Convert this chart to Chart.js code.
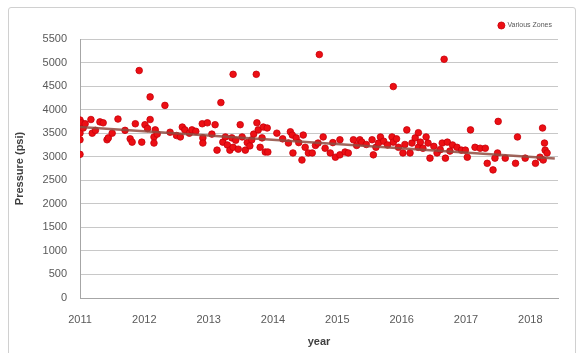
<!DOCTYPE html>
<html>
<head>
<meta charset="utf-8">
<script src="https://cdn.jsdelivr.net/npm/chart.js@4/dist/chart.umd.min.js"></script>
<style>
  html, body { margin: 0; padding: 0; background: #ffffff; }
  #wrap { position: relative; width: 579px; height: 353px; overflow: hidden; background: #ffffff; }
  #frame { position: absolute; left: 8px; top: 7px; width: 568px; height: 360px;
           border: 1px solid #d0d0d0; border-radius: 3px; box-sizing: border-box; }
  canvas { position: absolute; left: 0; top: 0; }
</style>
</head>
<body>
<div id="wrap">
  <div id="frame"></div>
  <canvas id="chart" width="579" height="353"></canvas>
</div>
<script>
// Sampling dates (decimal years) and measured pressures (psi)
const sampleDates = [
  2011.00, 2011.00, 2011.00, 2011.00, 2011.00, 2011.02, 2011.05, 2011.08, 2011.17, 2011.19,
  2011.24, 2011.31, 2011.36, 2011.42, 2011.44, 2011.50, 2011.59, 2011.70, 2011.78, 2011.81,
  2011.86, 2011.92, 2011.96, 2012.01, 2012.05, 2012.09, 2012.09, 2012.15, 2012.15, 2012.17,
  2012.20, 2012.32, 2012.40, 2012.50, 2012.56, 2012.59, 2012.63, 2012.70, 2012.74, 2012.80,
  2012.90, 2012.91, 2012.91, 2012.98, 2013.05, 2013.10, 2013.13, 2013.19, 2013.22, 2013.26,
  2013.29, 2013.33, 2013.36, 2013.38, 2013.38, 2013.42, 2013.46, 2013.49, 2013.52, 2013.57,
  2013.60, 2013.64, 2013.67, 2013.70, 2013.74, 2013.75, 2013.77, 2013.80, 2013.83, 2013.85,
  2013.88, 2013.91, 2013.92, 2014.06, 2014.15, 2014.24, 2014.27, 2014.30, 2014.31, 2014.36,
  2014.40, 2014.45, 2014.47, 2014.50, 2014.55, 2014.61, 2014.66, 2014.70, 2014.72, 2014.78,
  2014.81, 2014.89, 2014.93, 2014.97, 2015.04, 2015.04, 2015.12, 2015.17, 2015.25, 2015.30,
  2015.35, 2015.38, 2015.45, 2015.54, 2015.56, 2015.60, 2015.64, 2015.67, 2015.72, 2015.78,
  2015.85, 2015.87, 2015.87, 2015.92, 2015.95, 2016.02, 2016.05, 2016.08, 2016.13, 2016.16,
  2016.21, 2016.26, 2016.26, 2016.29, 2016.33, 2016.38, 2016.41, 2016.44, 2016.50, 2016.55,
  2016.60, 2016.63, 2016.66, 2016.68, 2016.71, 2016.75, 2016.79, 2016.86, 2016.93, 2016.99,
  2017.02, 2017.07, 2017.14, 2017.22, 2017.30, 2017.33, 2017.42, 2017.45, 2017.49, 2017.50,
  2017.61, 2017.77, 2017.80, 2017.92, 2018.08, 2018.15, 2018.19, 2018.20, 2018.22, 2018.23,
  2018.26
];
const pressures = [
  3780, 3680, 3500, 3360, 3050, 3720, 3610, 3700, 3790, 3500,
  3560, 3740, 3720, 3360, 3400, 3500, 3800, 3560, 3380, 3310,
  3700, 4830, 3310, 3680, 3600, 3790, 4270, 3420, 3290, 3570,
  3480, 4090, 3520, 3450, 3420, 3630, 3570, 3500, 3570, 3540,
  3700, 3400, 3290, 3720, 3480, 3680, 3140, 4150, 3310, 3420,
  3250, 3140, 3400, 3200, 4750, 3350, 3160, 3680, 3420, 3140,
  3300, 3230, 3360, 3480, 4750, 3720, 3570, 3200, 3400, 3630,
  3100, 3610, 3100, 3500, 3380, 3290, 3530, 3460, 3080, 3400,
  3300, 2930, 3460, 3200, 3080, 3080, 3240, 3290, 5170, 3420,
  3180, 3080, 3300, 2990, 3360, 3040, 3100, 3080, 3360, 3240,
  3360, 3310, 3260, 3360, 3040, 3200, 3290, 3420, 3330, 3250,
  3420, 4490, 3310, 3380, 3200, 3080, 3260, 3570, 3080, 3290,
  3400, 3510, 3200, 3310, 3180, 3420, 3290, 2970, 3220, 3080,
  3150, 3290, 5070, 2970, 3310, 3120, 3250, 3200, 3140, 3140,
  2990, 3570, 3200, 3180, 3180, 2860, 2720, 2970, 3080, 3750,
  2970, 2860, 3420, 2970, 2860, 2990, 3610, 2930, 3290, 3140,
  3080
];

// Linear trend through the readings: end points
const trendDates = [2011.0, 2018.38];
const trendValues = [3630, 2960];

// Axis ranges and tick labels
const yearTicks = [2011, 2012, 2013, 2014, 2015, 2016, 2017, 2018];
const pressureTicks = [0, 500, 1000, 1500, 2000, 2500, 3000, 3500, 4000, 4500, 5000, 5500];
const seriesName = 'Various Zones';

const points = sampleDates.map((d, i) => ({ x: d, y: pressures[i] }));
const trend = trendDates.map((d, i) => ({ x: d, y: trendValues[i] }));

const tickFont = { family: 'Liberation Sans, Arial, sans-serif', size: 11 };
const titleFont = { family: 'Liberation Sans, Arial, sans-serif', size: 11, weight: 'bold' };

new Chart(document.getElementById('chart'), {
  type: 'scatter',
  data: {
    datasets: [
      {
        type: 'line',
        label: 'Linear trend',
        data: trend,
        borderColor: 'rgba(145, 75, 65, 0.85)',
        borderWidth: 2.5,
        pointRadius: 0,
        fill: false,
        order: 0
      },
      {
        label: seriesName,
        data: points,
        backgroundColor: '#ec0f14',
        borderColor: '#c8000a',
        borderWidth: 0.8,
        pointRadius: 3.3,
        order: 1
      }
    ]
  },
  options: {
    responsive: false,
    animation: false,
    devicePixelRatio: 1,
    layout: { padding: { left: 8, right: 21, top: 16, bottom: 4 } },
    plugins: {
      tooltip: { enabled: false },
      legend: {
        position: 'top',
        align: 'end',
        labels: {
          filter: item => item.text === seriesName,
          usePointStyle: true,
          pointStyle: 'circle',
          boxWidth: 5,
          boxHeight: 5,
          padding: 6,
          color: '#595959',
          font: { family: 'Liberation Sans, Arial, sans-serif', size: 7 }
        }
      }
    },
    scales: {
      x: {
        type: 'linear',
        min: 2011,
        max: 2018.43,
        afterBuildTicks: scale => { scale.ticks = yearTicks.map(v => ({ value: v })); },
        ticks: {
          color: '#595959',
          font: tickFont,
          padding: 15,
          maxRotation: 0,
          autoSkip: false,
          callback: v => String(v)
        },
        grid: { display: false, drawTicks: false },
        border: { display: true, color: '#a6a6a6', width: 1 },
        title: { display: true, text: 'year', color: '#404040', font: titleFont, padding: { top: 0, bottom: 0 } },
        afterFit: scale => { scale.height = 51; }
      },
      y: {
        min: 0,
        max: 5500,
        afterBuildTicks: scale => { scale.ticks = pressureTicks.map(v => ({ value: v })); },
        ticks: { color: '#595959', font: tickFont, padding: 13, callback: v => String(v) },
        grid: { color: '#c8c8c8', lineWidth: 1, drawTicks: false },
        border: { display: true, color: '#a6a6a6', width: 1 },
        title: { display: true, text: 'Pressure (psi)', color: '#404040', font: titleFont, padding: { top: 5, bottom: 0 } },
        afterFit: scale => { scale.width = 72; }
      }
    }
  }
});
</script>
</body>
</html>
